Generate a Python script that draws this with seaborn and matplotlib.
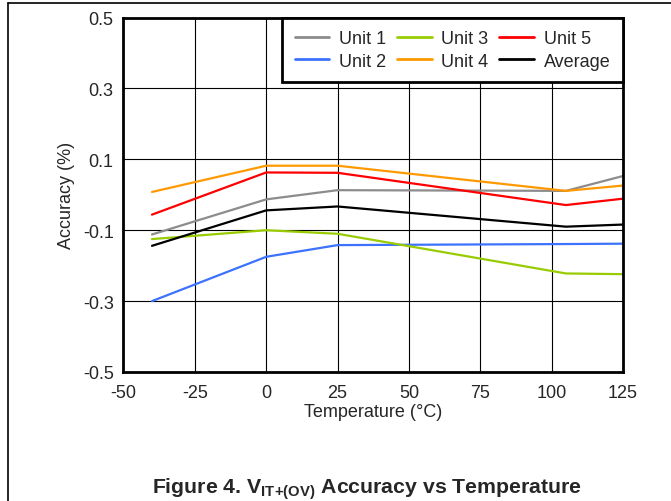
import matplotlib
matplotlib.use("Agg")
import matplotlib.pyplot as plt
import seaborn as sns
import pandas as pd
from matplotlib.lines import Line2D

# ─── Data ─────────────────────────────────────────────────────────────────────
temps = [-40, 0, 25, 105, 125]
unit1 = [-0.112, -0.013, 0.013, 0.011, 0.053]
unit2 = [-0.300, -0.175, -0.142, -0.139, -0.138]
unit3 = [-0.125, -0.100, -0.110, -0.222, -0.224]
unit4 = [0.008, 0.082, 0.082, 0.011, 0.026]
unit5 = [-0.056, 0.063, 0.062, -0.029, -0.011]
average = [-0.144, -0.044, -0.033, -0.090, -0.084]

series_names = ["Unit 1", "Unit 2", "Unit 3", "Unit 4", "Unit 5", "Average"]
series_vals = [unit1, unit2, unit3, unit4, unit5, average]
colours = ["#8c8c8c", "#3d72ff", "#99cc00", "#ff9900", "#ff0000", "#000000"]

x_ticks = [-50, -25, 0, 25, 50, 75, 100, 125]
y_ticks = [-0.5, -0.3, -0.1, 0.1, 0.3, 0.5]

df = pd.DataFrame(
    [(t, v, name) for name, vals in zip(series_names, series_vals)
     for t, v in zip(temps, vals)],
    columns=["temp", "acc", "unit"],
)

# ─── Plot ─────────────────────────────────────────────────────────────────────
sns.set_style("white")
plt.rcParams["font.family"] = ["Liberation Sans", "DejaVu Sans"]
plt.rcParams["mathtext.fontset"] = "custom"
plt.rcParams["mathtext.rm"] = "Liberation Sans"
plt.rcParams["mathtext.bf"] = "Liberation Sans:bold"

fig = plt.figure(figsize=(6.71, 5.02), dpi=100)
ax = fig.add_axes([0.184, 0.257, 0.7445, 0.706])

sns.lineplot(
    data=df, x="temp", y="acc", hue="unit", hue_order=series_names,
    palette=colours, linewidth=1.6, ax=ax, legend=False,
)

ax.set_xlim(-50, 125)
ax.set_ylim(-0.5, 0.5)
ax.set_xticks(x_ticks)
ax.set_yticks(y_ticks)
ax.set_xticklabels([str(t) for t in x_ticks])
ax.set_yticklabels([f"{t:.1f}" for t in y_ticks])
ax.tick_params(labelsize=13, direction="in", length=3, color="black")
ax.tick_params(axis="x", pad=9)
ax.tick_params(axis="y", pad=7)
ax.grid(True, color="black", linewidth=0.8)
ax.set_axisbelow(True)
for s in ax.spines.values():
    s.set_visible(True)
    s.set_color("black")
    s.set_linewidth(2)

ax.set_xlabel("Temperature (°C)", fontsize=13, labelpad=1)
ax.set_ylabel("Accuracy (%)", fontsize=13, labelpad=6)

handles = [Line2D([], [], color=c, linewidth=2) for c in colours]
leg = ax.legend(
    handles, series_names, loc="upper right", ncol=3, fontsize=13,
    frameon=True, fancybox=False, borderaxespad=0, handlelength=1.9,
    columnspacing=0.6, handletextpad=0.55, labelspacing=0.3,
    borderpad=0.7,
)
leg.get_frame().set_edgecolor("black")
leg.get_frame().set_linewidth(2)
leg.get_frame().set_alpha(1)

fig.text(0.547, 0.018, r"Figure 4. V$_{\mathbf{IT{+}(OV)}}$ Accuracy vs Temperature",
         ha="center", va="baseline", fontsize=15.3, fontweight="bold")

# page frame lines (top and left)
fig.add_artist(Line2D([0.012, 1.0], [0.992, 0.992], color="black",
                      linewidth=1.2, transform=fig.transFigure))
fig.add_artist(Line2D([0.012, 0.012], [0.0, 0.992], color="black",
                      linewidth=1.2, transform=fig.transFigure))

fig.savefig("out.png", dpi=100)
plt.close(fig)
